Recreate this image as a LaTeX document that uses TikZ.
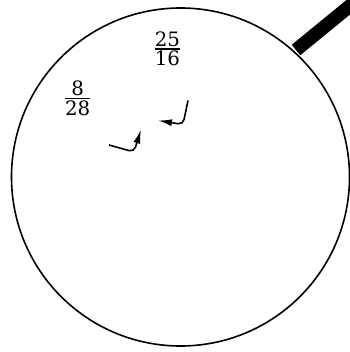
\documentclass[tikz,border=0pt]{standalone}
\usepackage{fontspec}
\setmainfont{DejaVu Serif}
\usepackage{amsmath}
\usetikzlibrary{arrows.meta}
\tikzset{
  lensline/.style={circle, draw, line width=1.6pt, minimum size=338pt, inner sep=0pt},
  handlebar/.style={line width=13.5pt, line cap=butt},
  turnarrow/.style={line width=1.6pt, rounded corners=5pt, -{Latex[length=14pt,width=7pt]}},
  fraclabel/.style={font=\fontsize{19.8}{24}\selectfont, inner sep=0pt}
}
\newcommand{\myfrac}[2]{\genfrac{}{}{1.4pt}{1}{\mbox{#1}}{\mbox{#2}}}
\begin{document}
\begin{tikzpicture}[x=1pt,y=-1pt]
\useasboundingbox (0,0) rectangle (349,352);
\node[lensline] (lens) at (180.5,177) {};
\coordinate (h1) at (296,50);
\coordinate (h2) at (362,-4);
\draw[handlebar] (h1) -- (h2);
\node[fraclabel] (f1) at (167.5,48.7) {$\myfrac{25}{16}$};
\node[fraclabel] (f2) at (77.6,98.3) {$\myfrac{8}{28}$};
\coordinate (a1s) at (188,100.5);
\coordinate (a1c) at (183,124.5);
\coordinate (a1e) at (158,120.5);
\draw[turnarrow] (a1s) -- (a1c) -- (a1e);
\coordinate (a2s) at (109,145);
\coordinate (a2c) at (134,152);
\coordinate (a2e) at (141,129.5);
\draw[turnarrow] (a2s) -- (a2c) -- (a2e);
\end{tikzpicture}
\end{document}
